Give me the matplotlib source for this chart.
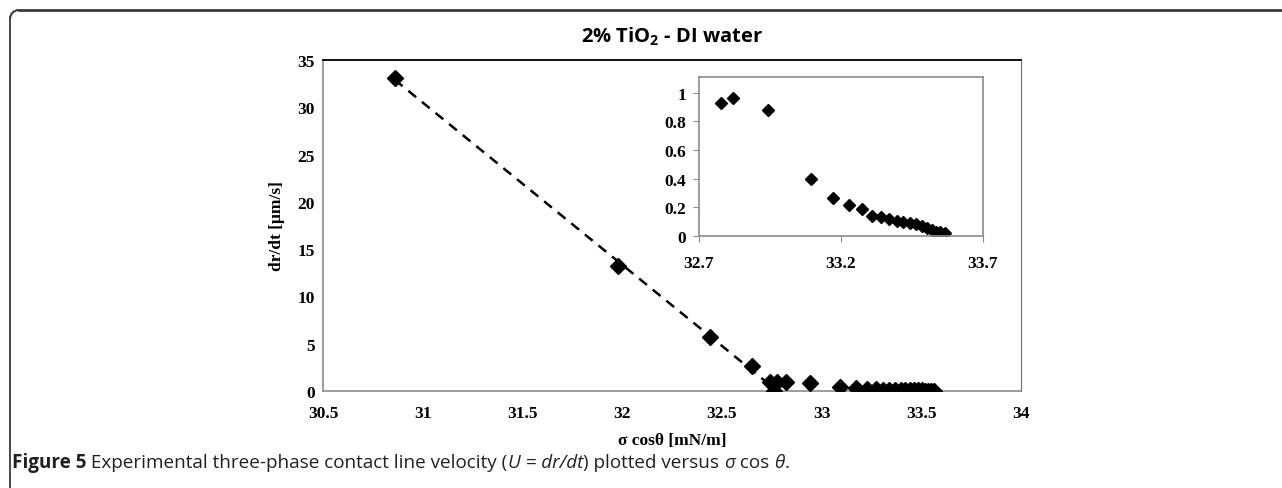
import numpy as np
import matplotlib
matplotlib.use("Agg")
import matplotlib.pyplot as plt
from matplotlib.lines import Line2D
from matplotlib.patches import Arc

# ---- data ----
fit_x = [30.86, 31.98, 32.44, 32.65]
fit_y = [33.1, 13.2, 5.7, 2.6]
main_extra_x = [32.74, 32.76]
main_extra_y = [0.9, 0.05]
inset_x = [32.777, 32.821, 32.944, 33.093, 33.171, 33.228, 33.273, 33.308, 33.340,
           33.369, 33.396, 33.419, 33.443, 33.464, 33.484, 33.502, 33.519, 33.535,
           33.549, 33.566]
inset_y = [0.93, 0.96, 0.88, 0.40, 0.266, 0.219, 0.187, 0.14, 0.13, 0.12, 0.107,
           0.10, 0.09, 0.085, 0.07, 0.055, 0.04, 0.03, 0.025, 0.02]
main_xticks = [30.5, 31, 31.5, 32, 32.5, 33, 33.5, 34]
main_yticks = [0, 5, 10, 15, 20, 25, 30, 35]
inset_xticks = [32.7, 33.2, 33.7]
inset_yticks = [0, 0.2, 0.4, 0.6, 0.8, 1]

W, H = 1282, 489
fig = plt.figure(figsize=(W / 100, H / 100), dpi=100)

serif = dict(family="Liberation Serif", weight="bold")
TS = 12.5

# ---- main axes ----
ax = fig.add_axes([323 / W, 1 - 392 / H, 698 / W, 331 / H])
all_x = fit_x + main_extra_x + inset_x
all_y = fit_y + main_extra_y + inset_y
ax.plot(all_x, all_y, linestyle="none", marker="D", markersize=8, color="black", zorder=3)
coef = np.polyfit(fit_x, fit_y, 1)
lx = np.array([fit_x[0], 32.73])
ax.plot(lx, np.polyval(coef, lx), color="black", linestyle=(0, (4, 3)), linewidth=1.8, zorder=2)
ax.set_xlim(30.5, 34)
ax.set_ylim(0, 35)
ax.set_xticks(main_xticks)
ax.set_xticklabels([f"{t:g}" for t in main_xticks], fontdict=dict(size=TS, **serif))
ax.set_yticks(main_yticks)
ax.set_yticklabels([f"{t:g}" for t in main_yticks], fontdict=dict(size=TS, **serif))
ax.tick_params(axis="y", length=0, pad=6)
ax.tick_params(axis="x", length=0, pad=10)
for s in ["left", "bottom"]:
    ax.spines[s].set_color("#8c8c8c")
    ax.spines[s].set_linewidth(1.2)
ax.spines["right"].set_color("#6e6e6e")
ax.spines["right"].set_linewidth(0.8)
ax.spines["top"].set_color("black")
ax.spines["top"].set_linewidth(1.3)
ax.set_ylabel("dr/dt [μm/s]", fontsize=TS, labelpad=9, **serif)
ax.set_xlabel("σ cosθ [mN/m]", fontsize=TS, labelpad=8, **serif)

# ---- inset ----
ax2 = fig.add_axes([699 / W, 1 - 237 / H, 284 / W, 159 / H])
ax2.plot(inset_x, inset_y, linestyle="none", marker="D", markersize=6.5, color="black")
ax2.set_xlim(32.7, 33.7)
ax2.set_ylim(0, 1.11)
ax2.set_xticks(inset_xticks)
ax2.set_xticklabels([f"{t:g}" for t in inset_xticks], fontdict=dict(size=TS, **serif))
ax2.set_yticks(inset_yticks)
ax2.set_yticklabels([f"{t:g}" for t in inset_yticks], fontdict=dict(size=TS, **serif))
ax2.tick_params(axis="y", length=4, color="#8c8c8c", pad=5)
ax2.tick_params(axis="x", length=4, color="#8c8c8c", pad=10)
for s in ax2.spines.values():
    s.set_color("#8c8c8c")
    s.set_linewidth(1.2)

# ---- title ----
plt.rcParams["mathtext.fontset"] = "custom"
plt.rcParams["mathtext.rm"] = "Open Sans:bold"
plt.rcParams["mathtext.bf"] = "Open Sans:bold"
fig.text(672 / W, 1 - 37 / H, r"2% TiO$_{2}$ - DI water", ha="center", va="center",
         fontsize=14.5, family="Open Sans", weight="bold", color="black")

# ---- outer frame (rounded top-left) ----
r = 9
frame_col = "#3a3a3a"
fig.add_artist(Line2D([(10 + r) / W, 1.0], [1 - 11 / H, 1 - 11 / H], transform=fig.transFigure,
                      color=frame_col, linewidth=2.0))
fig.add_artist(Line2D([10 / W, 10 / W], [1 - (11 + r) / H, 0.0], transform=fig.transFigure,
                      color=frame_col, linewidth=1.3))
fig.add_artist(Arc(((10 + r) / W, 1 - (11 + r) / H), 2 * r / W, 2 * r / H, theta1=90, theta2=180,
                   transform=fig.transFigure, color=frame_col, linewidth=1.5))

# ---- caption ----
cap_col = "#231f20"
pieces = [
    ("Figure 5", "bold", "normal"),
    (" Experimental three-phase contact line velocity (", "normal", "normal"),
    ("U = dr/dt", "normal", "italic"),
    (") plotted versus ", "normal", "normal"),
    ("σ", "normal", "italic"),
    (" cos ", "normal", "normal"),
    ("θ", "normal", "italic"),
    (".", "normal", "normal"),
]
renderer = fig.canvas.get_renderer()
xpix = 12
ypos = 1 - 463 / H
for txt, wt, st in pieces:
    t = fig.text(xpix / W, ypos, txt, ha="left", va="center", fontsize=13.6,
                 family="Open Sans", weight=wt, style=st, color=cap_col)
    bb = t.get_window_extent(renderer=renderer)
    xpix += bb.width

fig.savefig("out.png", dpi=100)
